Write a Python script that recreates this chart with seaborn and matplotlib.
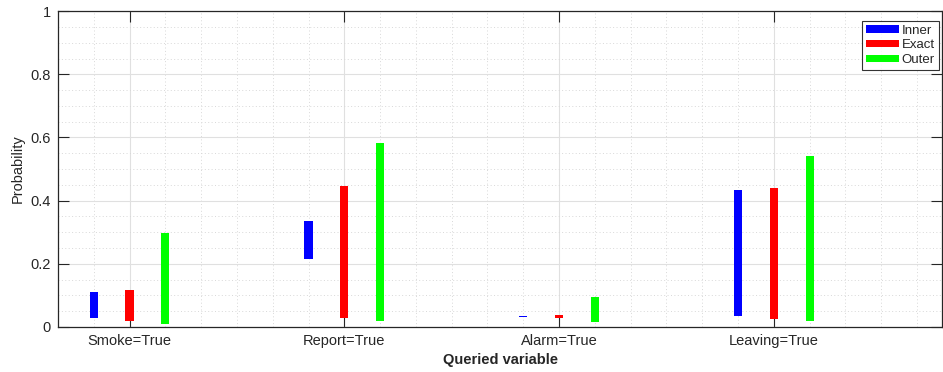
import numpy as np
import matplotlib
matplotlib.use("Agg")
import matplotlib.pyplot as plt
import seaborn as sns
from matplotlib.ticker import FixedLocator

# queried variables and interval bounds per method
queries = ["Smoke=True", "Report=True", "Alarm=True", "Leaving=True"]
methods = ["Inner", "Exact", "Outer"]
colors = ["#0000ff", "#ff0000", "#00ff00"]

inner_low = [0.030, 0.215, 0.031, 0.036]
inner_high = [0.110, 0.335, 0.036, 0.434]
exact_low = [0.020, 0.030, 0.028, 0.025]
exact_high = [0.117, 0.446, 0.038, 0.439]
outer_low = [0.010, 0.019, 0.015, 0.019]
outer_high = [0.298, 0.584, 0.094, 0.542]

y_ticks = [0, 0.2, 0.4, 0.6, 0.8, 1]
y_ticklabels = ["0", "0.2", "0.4", "0.6", "0.8", "1"]

lows = [inner_low, exact_low, outer_low]
highs = [inner_high, exact_high, outer_high]

sns.set_style("white")
plt.rcParams["font.family"] = ["Liberation Sans", "DejaVu Sans"]

fig = plt.figure(figsize=(9.43, 3.72), dpi=100)
ax = fig.add_axes([0.0615, 0.121, 0.9375, 0.849])

centers = np.array([3, 9, 15, 21])
for i, m in enumerate(methods):
    lo = np.array(lows[i])
    hi = np.array(highs[i])
    ax.bar(centers + (i - 1), hi - lo, bottom=lo, width=0.23,
           color=colors[i], label=m, linewidth=0)

ax.set_xlim(1, 25.7)
ax.set_ylim(0, 1)
ax.xaxis.set_major_locator(FixedLocator(centers))
ax.xaxis.set_minor_locator(FixedLocator(np.arange(1, 26)))
ax.yaxis.set_major_locator(FixedLocator(y_ticks))
ax.yaxis.set_minor_locator(FixedLocator(np.arange(0, 1.001, 0.05)))
ax.set_xticklabels(queries)
ax.set_yticklabels(y_ticklabels)

ax.grid(True, which="major", color="#e0e0e0", linewidth=0.8, linestyle="-")
ax.grid(True, which="minor", color="#d8d8d8", linewidth=0.7, linestyle=(0, (1, 2.5)))
ax.set_axisbelow(True)

ax.tick_params(which="major", direction="in", length=8, width=0.8,
               color="#262626", labelsize=10.5, labelcolor="#262626",
               top=True, right=True, bottom=True, left=True, pad=5)
ax.tick_params(which="minor", length=0)
for s in ax.spines.values():
    s.set_color("#262626")
    s.set_linewidth(0.9)

ax.set_xlabel("Queried variable", fontsize=10.5, fontweight="bold", color="#262626")
ax.set_ylabel("Probability", fontsize=10.5, color="#262626", labelpad=4)

leg = ax.legend(loc="upper right", fontsize=9.5, frameon=True, fancybox=False,
                edgecolor="black", handlelength=2.5, handleheight=0.5,
                handletextpad=0.2, borderpad=0.3, labelspacing=0.2,
                borderaxespad=0.25, bbox_to_anchor=(1.0, 0.98))
leg.get_frame().set_linewidth(0.8)

fig.savefig("out.png", dpi=100)
